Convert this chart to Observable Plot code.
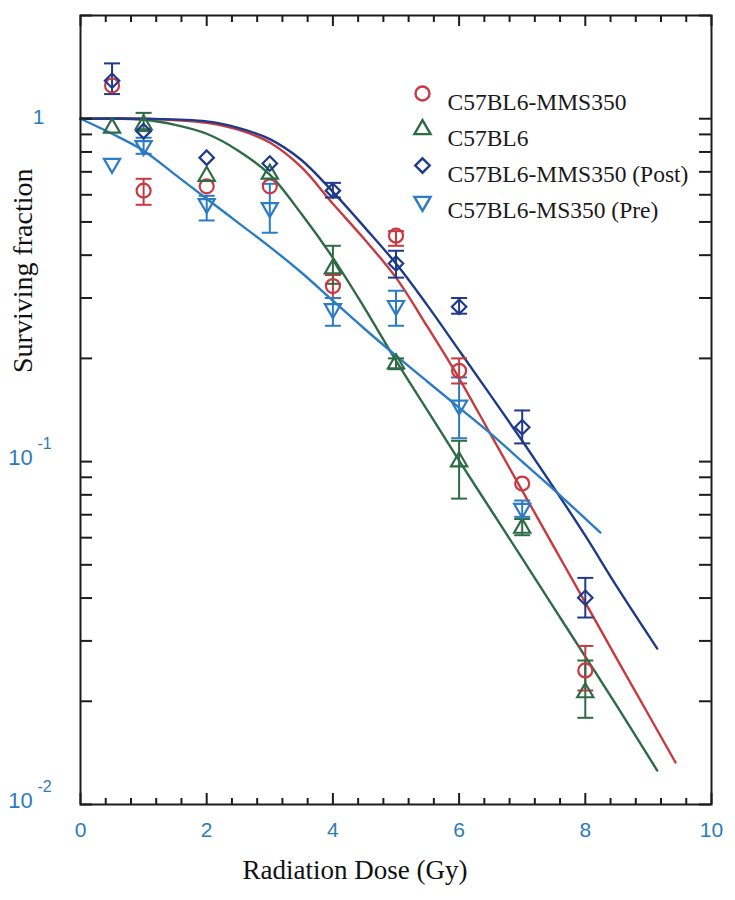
<!DOCTYPE html>
<html>
<head>
<meta charset="utf-8">
<script src="https://cdn.jsdelivr.net/npm/d3@7"></script>
<script src="https://cdn.jsdelivr.net/npm/@observablehq/plot@0.6"></script>
<style>
  html, body { margin: 0; padding: 0; background: #fff; }
  #chart { width: 735px; height: 900px; }
</style>
</head>
<body>
<div id="chart"></div>
<script>
// ---------- data ----------
const seriesNames = ["C57BL6-MMS350", "C57BL6", "C57BL6-MMS350 (Post)", "C57BL6-MS350 (Pre)"];
const seriesColors = ["#c83a40", "#2f6b46", "#1f3a8a", "#2b7cc4"];
const seriesSymbols = ["circle", "triangle", "diamond2", "triangle"];
const seriesRotate = [0, 0, 0, 180];

const doses = [0.5, 1, 2, 3, 4, 5, 6, 7, 8];
const preDoses = [0.5, 1, 2, 3, 4, 5, 6, 7];

const mmsMean = [1.25, 0.617, 0.635, 0.635, 0.325, 0.456, 0.184, 0.0863, 0.0246];
const mmsLow  = [null, 0.561, null, null, 0.30, 0.426, 0.169, null, 0.0215];
const mmsHigh = [null, 0.668, null, null, 0.35, 0.47, 0.20, null, 0.029];

const c57Mean = [0.94, 0.96, 0.68, 0.69, 0.365, 0.193, 0.10, 0.064, 0.0212];
const c57Low  = [null, 0.92, null, null, 0.33, 0.186, 0.078, 0.061, 0.0179];
const c57High = [null, 1.04, null, null, 0.426, 0.20, 0.115, 0.068, 0.0263];

const postMean = [1.29, 0.92, 0.77, 0.74, 0.617, 0.378, 0.283, 0.126, 0.0401];
const postLow  = [1.18, null, null, null, 0.589, 0.344, 0.27, 0.113, 0.0351];
const postHigh = [1.45, null, null, null, 0.65, 0.412, 0.30, 0.141, 0.0458];

const preMean = [0.74, 0.834, 0.565, 0.55, 0.279, 0.285, 0.146, 0.073];
const preLow  = [null, 0.79, 0.505, 0.465, 0.249, 0.249, 0.117, 0.069];
const preHigh = [null, 0.88, 0.596, 0.646, 0.30, 0.315, 0.176, 0.077];

// fitted curves
const mmsFitDose = [0, 1, 2, 2.5, 3, 3.5, 4, 4.5, 5, 5.5, 6, 6.5, 7, 7.5, 8, 8.5, 9, 9.43];
const mmsFitY = [1, 1, 0.973, 0.929, 0.852, 0.722, 0.565, 0.445, 0.344, 0.247, 0.175, 0.120, 0.0823, 0.0565, 0.0388, 0.0266, 0.0183, 0.01326];

const c57FitDose = [0, 1, 1.5, 2, 2.5, 3, 3.5, 4, 4.5, 5, 5.5, 6, 6.5, 7, 7.5, 8, 8.5, 9.14];
const c57FitY = [1, 0.993, 0.960, 0.904, 0.807, 0.687, 0.528, 0.393, 0.281, 0.197, 0.1408, 0.1007, 0.0725, 0.0522, 0.0375, 0.0270, 0.0194, 0.01256];

const postFitDose = [0, 1, 2, 2.5, 3, 3.5, 4, 4.5, 5, 5.5, 6, 6.5, 7, 7.5, 8, 8.5, 9.14];
const postFitY = [1, 1, 0.982, 0.940, 0.872, 0.758, 0.612, 0.483, 0.378, 0.285, 0.211, 0.156, 0.115, 0.0840, 0.0608, 0.0432, 0.0285];

const preFitDose = [0, 0.5, 1, 1.5, 2, 2.5, 3, 3.5, 4, 4.5, 5, 5.5, 6, 6.5, 7, 7.5, 8, 8.24];
const preFitY = [1, 0.904, 0.807, 0.687, 0.584, 0.497, 0.423, 0.356, 0.2946, 0.244, 0.2037, 0.171, 0.1437, 0.1207, 0.100, 0.0829, 0.0682, 0.0621];

const xTickLabels = [0, 2, 4, 6, 8, 10];
const xMinorTicks = [0.4, 0.8, 1.2, 1.6, 2.4, 2.8, 3.2, 3.6, 4.4, 4.8, 5.2, 5.6, 6.4, 6.8, 7.2, 7.6, 8.4, 8.8, 9.2, 9.6];
const yMajorTicks = [0.01, 0.1, 1];
const yMinorTicks = [0.02, 0.03, 0.04, 0.05, 0.06, 0.07, 0.08, 0.09, 0.2, 0.3, 0.4, 0.5, 0.6, 0.7, 0.8, 0.9, 2];
const yTickBase = [{v: 1, base: "1", exp: ""}, {v: 0.1, base: "10", exp: "-1"}, {v: 0.01, base: "10", exp: "-2"}];

// ---------- tables built from the arrays ----------
const means = [mmsMean, c57Mean, postMean, preMean];
const lows = [mmsLow, c57Low, postLow, preLow];
const highs = [mmsHigh, c57High, postHigh, preHigh];
const doseSets = [doses, doses, doses, preDoses];
const points = [];
seriesNames.forEach((s, i) => {
  doseSets[i].forEach((d, j) => {
    points.push({series: s, i, dose: d, mean: means[i][j], lo: lows[i][j], hi: highs[i][j]});
  });
});
const bars = points.filter(p => p.lo != null && p.hi != null);
const caps = bars.flatMap(p => [{...p, v: p.lo}, {...p, v: p.hi}]);

const fitDoses = [mmsFitDose, c57FitDose, postFitDose, preFitDose];
const fitYs = [mmsFitY, c57FitY, postFitY, preFitY];
const fits = [];
seriesNames.forEach((s, i) => {
  fitDoses[i].forEach((d, j) => fits.push({series: s, i, dose: d, v: fitYs[i][j]}));
});

// ---------- styling ----------
const W = 735, H = 900;
const mL = 80, mR = 24, mT = 15, mB = 96;
const FW = W - mL - mR, FH = H - mT - mB;
const tickColor = "#1c1c1c";
const labelBlue = "#2b7bbd";
const sans = "'Liberation Sans', Arial, sans-serif";
const serif = "'Liberation Serif', 'Times New Roman', serif";

const capSymbol = {
  draw(context, size) {
    const r = Math.sqrt(size / Math.PI);
    context.moveTo(-r, 0);
    context.lineTo(r, 0);
  }
};

const colorOf = d => seriesColors[d.i];
const symR = i => seriesSymbols[i] === "circle" ? 7 : (seriesSymbols[i] === "triangle" ? 6 : 6.5);

const marks = [];

// fitted curves
seriesNames.forEach((s, i) => {
  marks.push(Plot.line(fits.filter(f => f.i === i), {
    x: "dose", y: "v", stroke: seriesColors[i], strokeWidth: 2.4, curve: "catmull-rom"
  }));
});

// error bars
marks.push(Plot.ruleX(bars, {x: "dose", y1: "lo", y2: "hi", stroke: colorOf, strokeWidth: 2}));
marks.push(Plot.dot(caps, {x: "dose", y: "v", symbol: capSymbol, r: 8, stroke: colorOf, fill: "none", strokeWidth: 2}));

// points
seriesNames.forEach((s, i) => {
  marks.push(Plot.dot(points.filter(p => p.i === i), {
    x: "dose", y: "mean", symbol: seriesSymbols[i], rotate: seriesRotate[i],
    r: symR(i), stroke: seriesColors[i], fill: "none", strokeWidth: 2.2
  }));
});

// frame
marks.push(Plot.frame({stroke: tickColor, strokeWidth: 2}));

// inward ticks: bottom and top
marks.push(Plot.tickX(xTickLabels, {x: d => d, insetTop: FH - 11, stroke: tickColor, strokeWidth: 2}));
marks.push(Plot.tickX(xMinorTicks, {x: d => d, insetTop: FH - 6, stroke: tickColor, strokeWidth: 2}));
marks.push(Plot.tickX(xTickLabels, {x: d => d, insetBottom: FH - 11, stroke: tickColor, strokeWidth: 2}));
marks.push(Plot.tickX(xMinorTicks, {x: d => d, insetBottom: FH - 7, stroke: tickColor, strokeWidth: 2}));
// inward ticks: left and right
marks.push(Plot.tickY(yMajorTicks.concat(yMinorTicks), {y: d => d, insetRight: FW - 12, stroke: tickColor, strokeWidth: 2}));
marks.push(Plot.tickY(yMajorTicks.concat(yMinorTicks), {y: d => d, insetLeft: FW - 12, stroke: tickColor, strokeWidth: 2}));

// x tick labels
marks.push(Plot.text(xTickLabels, {
  x: d => d, text: d => String(d), frameAnchor: "bottom", dy: 32,
  fill: labelBlue, fontSize: 21, fontFamily: sans
}));

// y tick labels (base and exponent)
marks.push(Plot.text(yTickBase.filter(d => d.exp === ""), {
  y: "v", text: "base", frameAnchor: "left", dx: -42, dy: -1,
  fill: labelBlue, fontSize: 21, fontFamily: sans, textAnchor: "middle"
}));
marks.push(Plot.text(yTickBase.filter(d => d.exp !== ""), {
  y: "v", text: "base", frameAnchor: "left", dx: -60, dy: -4,
  fill: labelBlue, fontSize: 22, fontFamily: sans, textAnchor: "middle"
}));
marks.push(Plot.text(yTickBase.filter(d => d.exp !== ""), {
  y: "v", text: "exp", frameAnchor: "left", dx: -36, dy: -18,
  fill: labelBlue, fontSize: 16, fontFamily: sans, textAnchor: "middle"
}));

// axis titles
marks.push(Plot.text(["Radiation Dose (Gy)"], {
  text: d => d, frameAnchor: "bottom", dx: -41, dy: 74,
  fill: "#111", fontSize: 27, fontFamily: serif
}));
marks.push(Plot.text(["Surviving fraction"], {
  text: d => d, frameAnchor: "left", rotate: -90, dx: -57, dy: -37,
  fill: "#111", fontSize: 28, fontFamily: serif
}));

// legend
seriesNames.forEach((s, i) => {
  marks.push(Plot.dot([s], {
    frameAnchor: "top-left", dx: 342, dy: 78 + i * 36,
    symbol: seriesSymbols[i], rotate: seriesRotate[i],
    r: symR(i), stroke: seriesColors[i], fill: "none", strokeWidth: 2.4
  }));
  marks.push(Plot.text([s], {
    text: d => d, frameAnchor: "top-left", dx: 367, dy: 78 + i * 36,
    textAnchor: "start", fill: "#1a1a1a", fontSize: 23.5, fontFamily: serif
  }));
});

const chart = Plot.plot({
  width: W, height: H,
  marginLeft: mL, marginRight: mR, marginTop: mT, marginBottom: mB,
  x: {domain: [0, 10], axis: null},
  y: {type: "log", domain: [0.01, 2], axis: null},
  style: {background: "white", overflow: "visible"},
  marks
});
document.getElementById("chart").appendChild(chart);
</script>
</body>
</html>
